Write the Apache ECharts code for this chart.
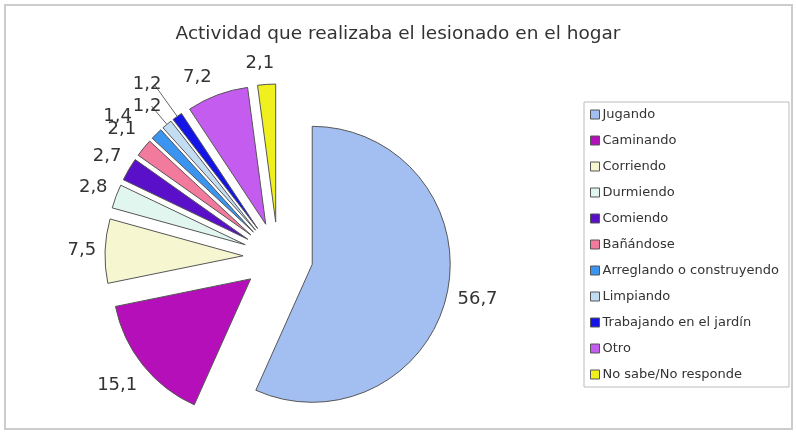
<!DOCTYPE html>
<html>
<head>
<meta charset="utf-8">
<script src="https://cdn.jsdelivr.net/npm/echarts@6/dist/echarts.min.js"></script>
<style>
  html, body { margin: 0; padding: 0; background: #fff; }
  #chart { width: 796px; height: 432px; }
</style>
</head>
<body>
<div id="chart"></div>
<script>
// datos del grafico
var categories = ['Jugando', 'Caminando', 'Corriendo', 'Durmiendo', 'Comiendo', 'Bañándose',
  'Arreglando o construyendo', 'Limpiando', 'Trabajando en el jardín', 'Otro', 'No sabe/No responde'];
var values = [56.7, 15.1, 7.5, 2.8, 2.7, 2.1, 1.4, 1.2, 1.2, 7.2, 2.1];
var colors = ['#a3bff2', '#b40fb8', '#f6f6d0', '#e2f6f0', '#5a0fc8', '#f27a9c',
  '#3a94f0', '#c2dcf2', '#1414e6', '#c45cf0', '#f0f01e'];

// estilo de etiquetas: distancia radial y ajuste horizontal (null = centrada)
var labelGap = [31, 33, 24, 25, 26, 29, 25, 24, 39, 19, 21];
var labelDist = [null, null, null, null, null, null, 7, -10, -7, -1, -9];
// porciones con linea guia
var withLeader = { 'Limpiando': true, 'Trabajando en el jardín': true };

function fmt(v) { return v.toFixed(1).replace('.', ','); }

var chart = echarts.init(document.getElementById('chart'));

var pieData = categories.map(function (name, i) {
  var d = labelDist[i] == null ? -5 * fmt(values[i]).length : labelDist[i];
  return {
    name: name,
    value: values[i],
    selected: true,
    itemStyle: { color: colors[i] },
    label: { distanceToLabelLine: d },
    labelLine: { show: !!withLeader[name], length: labelGap[i], length2: 0 }
  };
});

var option = {
  animation: false,
  textStyle: { fontFamily: 'DejaVu Sans, sans-serif' },
  title: {
    text: 'Actividad que realizaba el lesionado en el hogar',
    left: 'center',
    top: 20,
    textStyle: { fontSize: 18.5, fontWeight: 'normal', color: '#333', fontFamily: 'DejaVu Sans' }
  },
  graphic: [{
    type: 'rect',
    shape: { x: 5, y: 5, width: 787, height: 424 },
    style: { fill: 'none', stroke: '#cccccc', lineWidth: 2 },
    silent: true
  }],
  legend: {
    orient: 'vertical',
    left: 584,
    top: 102,
    padding: [6, 10, 6, 6],
    itemWidth: 9,
    itemHeight: 9,
    itemGap: 13,
    icon: 'rect',
    backgroundColor: '#fff',
    borderColor: '#bbbbbb',
    borderWidth: 1,
    selectedMode: false,
    itemStyle: { borderColor: '#555', borderWidth: 1 },
    textStyle: { fontSize: 13, color: '#333', fontFamily: 'DejaVu Sans', padding: [0, 0, 0, -2] },
    data: categories
  },
  series: [{
    type: 'pie',
    center: [278, 257],
    radius: 138,
    startAngle: 90,
    clockwise: true,
    selectedMode: 'multiple',
    selectedOffset: 35,
    avoidLabelOverlap: false,
    labelLayout: { hideOverlap: false },
    emphasis: { disabled: true },
    itemStyle: { borderColor: '#555', borderWidth: 1 },
    label: {
      show: true,
      position: 'outside',
      fontSize: 18,
      color: '#333',
      fontFamily: 'DejaVu Sans',
      formatter: function (p) { return fmt(p.value); }
    },
    labelLine: { lineStyle: { color: '#666', width: 1 } },
    data: pieData
  }]
};

chart.setOption(option);
</script>
</body>
</html>
